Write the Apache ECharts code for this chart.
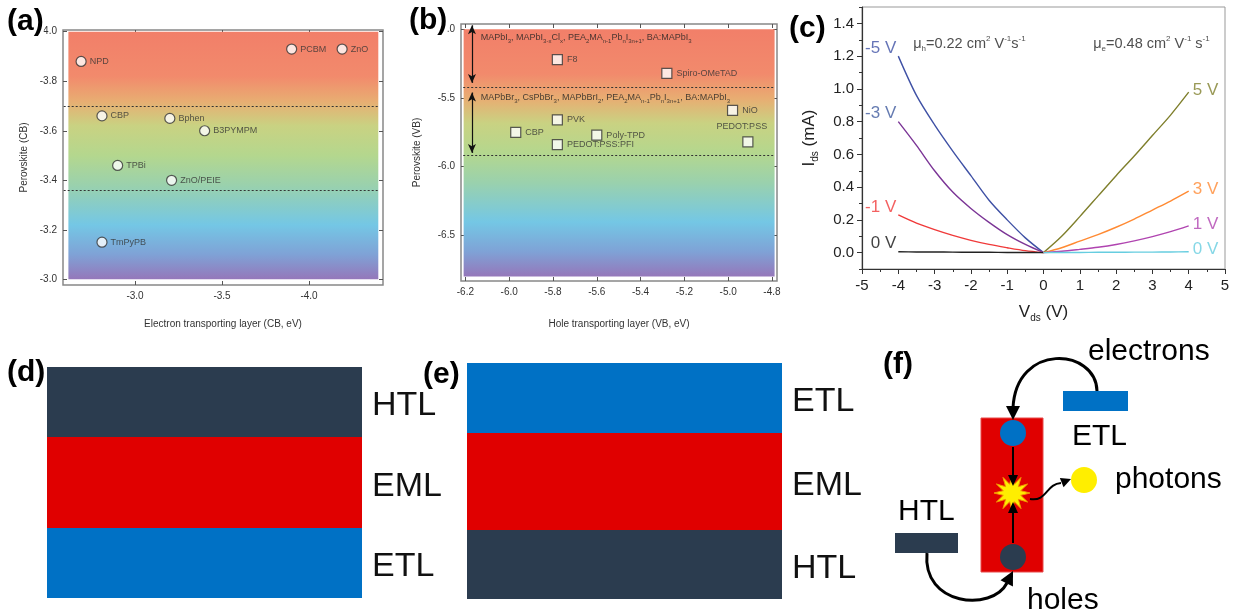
<!DOCTYPE html>
<html>
<head>
<meta charset="utf-8">
<script src="https://cdn.jsdelivr.net/npm/echarts@6/dist/echarts.min.js"></script>
<style>
  html, body { margin: 0; padding: 0; background: #fff; }
  #main { width: 1233px; height: 614px; }
</style>
</head>
<body>
<div id="main"></div>
<script>
// ---------- (a) electron transporting layers vs perovskite CB ----------
const etlNames = ['NPD', 'PCBM', 'ZnO', 'CBP', 'Bphen', 'B3PYMPM', 'TPBi', 'ZnO/PEIE', 'TmPyPB'];
const etlCB    = [-2.69, -3.90, -4.19, -2.81, -3.20, -3.40, -2.90, -3.21, -2.81];
const perovCB  = [-3.88, -3.93, -3.93, -3.66, -3.65, -3.60, -3.46, -3.40, -3.15];
const cbBandEdges = [-3.70, -3.36];
const cbTicksX = [-3.0, -3.5, -4.0];
const cbTicksY = [-4.0, -3.8, -3.6, -3.4, -3.2, -3.0];

// ---------- (b) hole transporting layers vs perovskite VB ----------
const htlNames = ['F8', 'Spiro-OMeTAD', 'NiO', 'PVK', 'CBP', 'Poly-TPD', 'PEDOT:PSS:PFI', 'PEDOT:PSS'];
const htlVB    = [-5.78, -5.28, -4.98, -5.78, -5.97, -5.60, -5.78, -4.91];
const perovVB  = [-5.22, -5.32, -5.59, -5.66, -5.75, -5.77, -5.84, -5.82];
const vbBandEdges = [-5.42, -5.92];
const vbGroupRanges = [[-4.97, -5.39], [-5.46, -5.90]];
const vbGroupText = [
  'MAPbI{s|3}, MAPbI{s|3-x}Cl{s|x}, PEA{s|2}MA{s|n-1}Pb{s|n}I{s|3n+1}, BA:MAPbI{s|3}',
  'MAPbBr{s|3}, CsPbBr{s|3}, MAPbBrI{s|2}, PEA{s|2}MA{s|n-1}Pb{s|n}I{s|3n+1}, BA:MAPbI{s|3}'
];
const vbGroupAnchor = [[-6.13, -5.06], [-6.13, -5.50]];
const vbTicksX = [-6.2, -6.0, -5.8, -5.6, -5.4, -5.2, -5.0, -4.8];
const vbTicksY = [-5.0, -5.5, -6.0, -6.5];

// ---------- (c) output curves ----------
const vdsNeg  = [-4, -3.5, -3, -2.5, -2, -1.5, -1, -0.5, 0];
const idsGm5  = [1.20, 0.96, 0.78, 0.62, 0.47, 0.32, 0.20, 0.09, 0];
const idsGm3  = [0.80, 0.655, 0.50, 0.37, 0.27, 0.185, 0.11, 0.05, 0];
const idsGm1  = [0.23, 0.18, 0.14, 0.105, 0.075, 0.05, 0.03, 0.012, 0];
const idsG0n  = [0.005, 0.004, 0.004, 0.003, 0.002, 0.002, 0.001, 0.001, 0];
const vdsPos  = [0, 0.5, 1, 1.5, 2, 2.5, 3, 3.5, 4];
const idsG5   = [0, 0.10, 0.22, 0.345, 0.47, 0.59, 0.715, 0.84, 0.98];
const idsG3   = [0, 0.03, 0.07, 0.11, 0.155, 0.205, 0.26, 0.315, 0.375];
const idsG1   = [0, 0.008, 0.02, 0.033, 0.05, 0.072, 0.098, 0.128, 0.163];
const idsG0p  = [0, 0.001, 0.001, 0.002, 0.002, 0.003, 0.003, 0.004, 0.005];
const gateLabelsNeg = ['-5 V', '-3 V', '-1 V', '0 V'];
const gateLabelsPos = ['5 V', '3 V', '1 V', '0 V'];
const idsTicks = [0, 0.2, 0.4, 0.6, 0.8, 1.0, 1.2, 1.4];
const idsMinorTicks = [-0.1, 0.1, 0.3, 0.5, 0.7, 0.9, 1.1, 1.3, 1.5];
const mobilityText = [
  '{t|μ}{sb|h}{t|=0.22 cm}{sp|2}{t| V}{sp|-1}{t|s}{sp|-1}',
  '{t|μ}{sb|e}{t|=0.48 cm}{sp|2}{t| V}{sp|-1}{t| s}{sp|-1}'
];
const mobilityAnchor = [[-3.59, 1.275], [1.37, 1.275]];

// ---------- (d), (e) device stacks, bottom layer first ----------
const stackD = ['ETL', 'EML', 'HTL'];
const thickD = [70, 91, 70];
const stackE = ['HTL', 'EML', 'ETL'];
const thickE = [69, 97, 70];

const FONT = 'Liberation Sans, Arial, sans-serif';
const layerColor = { HTL: '#2b3c4f', EML: '#e00000', ETL: '#0071c5' };
const negColors = ['#3f51a5', '#7b3596', '#f03a3a', '#222222'];
const negLabelColors = ['#3f51a5', '#3f5a9e', '#f03a3a', '#111111'];
const posColors = ['#7f7f2c', '#ff8a33', '#b044b0', '#66cde0'];

const chart = echarts.init(document.getElementById('main'), null, { renderer: 'canvas' });

function bandGradient() {
  return new echarts.graphic.LinearGradient(0, 0, 0, 1, [
    { offset: 0.00, color: '#f27f69' },
    { offset: 0.18, color: '#f28a6c' },
    { offset: 0.28, color: '#e8ad72' },
    { offset: 0.38, color: '#c9d282' },
    { offset: 0.50, color: '#b4d78e' },
    { offset: 0.62, color: '#9ad1ad' },
    { offset: 0.78, color: '#74c7e5' },
    { offset: 0.90, color: '#7fa2d6' },
    { offset: 1.00, color: '#9577ba' }
  ]);
}

const fmt1 = v => Number(v).toFixed(1);
const smallLabel = { fontSize: 10, color: '#333', fontFamily: FONT };

function energyAxis(gridIndex, opts, ticks, withLabels, position, name, nameGap) {
  return Object.assign({
    type: 'value', gridIndex, position,
    axisLine: { show: false, onZero: false },
    splitLine: { show: false },
    axisTick: { show: true, inside: true, length: 4, customValues: ticks, lineStyle: { color: '#555', width: 1 } },
    axisLabel: withLabels
      ? Object.assign({ customValues: ticks, formatter: fmt1, margin: 6 }, smallLabel)
      : { show: false },
    name: name || '', nameLocation: 'middle', nameGap: nameGap || 0,
    nameTextStyle: { fontSize: 10, color: '#333', fontFamily: FONT }
  }, opts);
}

// Layout of the energy-level panels
const aXRange = { min: -4.425, max: -2.586 };
const aYRange = { min: -4.007, max: -2.977 };
const aFill = { x: [-2.617, -4.398], y: [-4.0, -3.0] };
const bXRange = { min: -6.22, max: -4.777 };
const bYRange = { min: -6.833, max: -4.961 };
const bFill = { x: [-6.208, -4.788], y: [-5.0, -6.80] };

const series = [];

// (a) coloured band and dotted limits
series.push({
  type: 'scatter', xAxisIndex: 0, yAxisIndex: 0, z: 1, silent: true,
  symbolSize: 0, data: [[aFill.x[0], aFill.y[0]]],
  markArea: { silent: true, itemStyle: { color: bandGradient() },
    data: [[{ coord: [aFill.x[0], aFill.y[0]] }, { coord: [aFill.x[1], aFill.y[1]] }]] },
  markLine: { silent: true, symbol: 'none', label: { show: false },
    lineStyle: { type: [2, 2], color: '#333', width: 1 },
    data: cbBandEdges.map(v => [{ coord: [-2.59, v] }, { coord: [aFill.x[1], v] }]) }
});
series.push({
  type: 'scatter', xAxisIndex: 0, yAxisIndex: 0, z: 5,
  symbol: 'circle', symbolSize: 10,
  itemStyle: { color: '#fff', borderColor: '#333', borderWidth: 1.2 },
  label: { show: true, position: 'right', distance: 3, formatter: p => p.value[2],
    fontSize: 9, color: '#333', fontFamily: FONT },
  data: etlNames.map((n, i) => [etlCB[i], perovCB[i], n])
});

// (b) coloured band, dotted limits and composition ranges
series.push({
  type: 'scatter', xAxisIndex: 2, yAxisIndex: 2, z: 1, silent: true,
  symbolSize: 0, data: [[bFill.x[0], bFill.y[0]]],
  markArea: { silent: true, itemStyle: { color: bandGradient() },
    data: [[{ coord: [bFill.x[0], bFill.y[0]] }, { coord: [bFill.x[1], bFill.y[1]] }]] },
  markLine: { silent: true, symbol: 'none', label: { show: false },
    lineStyle: { type: [2, 2], color: '#333', width: 1 },
    data: vbBandEdges.map(v => [{ coord: [-6.21, v] }, { coord: [bFill.x[1], v] }]) }
});
series.push({
  type: 'scatter', xAxisIndex: 2, yAxisIndex: 2, z: 3, silent: true,
  symbolSize: 0, data: [[-6.17, -5.0]],
  markLine: { silent: true, symbol: ['arrow', 'arrow'], symbolSize: [6, 9], label: { show: false },
    lineStyle: { type: 'solid', color: '#111', width: 1.2 },
    data: vbGroupRanges.map(r => [{ coord: [-6.17, r[0]] }, { coord: [-6.17, r[1]] }]) }
});
series.push({
  type: 'scatter', xAxisIndex: 2, yAxisIndex: 2, z: 4, silent: true, symbolSize: 0,
  label: { show: true, position: 'right', distance: 0, formatter: p => p.value[2],
    rich: {
      s: { fontSize: 6, verticalAlign: 'bottom', lineHeight: 8, color: '#222', fontFamily: FONT }
    },
    fontSize: 9, lineHeight: 13, color: '#222', fontFamily: FONT },
  data: vbGroupText.map((t, i) => [vbGroupAnchor[i][0], vbGroupAnchor[i][1], t])
});
series.push({
  type: 'scatter', xAxisIndex: 2, yAxisIndex: 2, z: 5,
  symbol: 'rect', symbolSize: 10,
  itemStyle: { color: '#fff', borderColor: '#333', borderWidth: 1.2 },
  label: { show: true, position: 'right', distance: 4, formatter: p => p.value[2],
    fontSize: 9, color: '#333', fontFamily: FONT },
  data: htlNames.map((n, i) => {
    const item = { value: [htlVB[i], perovVB[i], n] };
    if (n === 'PEDOT:PSS') item.label = { position: 'top', distance: 5, offset: [-6, 0] };
    return item;
  })
});

// (c) output characteristics
function curve(xs, ys, color) {
  return {
    type: 'line', xAxisIndex: 4, yAxisIndex: 4, z: 4, smooth: 0.3,
    showSymbol: false, symbol: 'none',
    lineStyle: { color, width: 1.4 }, itemStyle: { color },
    data: xs.map((x, i) => [x, ys[i]])
  };
}
const negCurves = [idsGm5, idsGm3, idsGm1, idsG0n];
const posCurves = [idsG5, idsG3, idsG1, idsG0p];
negCurves.forEach((ys, i) => series.push(curve(vdsNeg, ys, negColors[i])));
posCurves.forEach((ys, i) => series.push(curve(vdsPos, ys, posColors[i])));

// gate-voltage tags at the free end of each curve
series.push({
  type: 'scatter', xAxisIndex: 4, yAxisIndex: 4, z: 6, silent: true, symbolSize: 0,
  data: negCurves.map((ys, i) => ({
    value: [vdsNeg[0], ys[0], gateLabelsNeg[i]],
    label: { color: negLabelColors[i] }
  })),
  label: { show: true, position: 'left', distance: 2, offset: [0, -8],
    formatter: p => p.value[2], fontSize: 17, fontFamily: FONT }
});
series.push({
  type: 'scatter', xAxisIndex: 4, yAxisIndex: 4, z: 6, silent: true, symbolSize: 0,
  data: posCurves.map((ys, i) => ({
    value: [vdsPos[vdsPos.length - 1], ys[ys.length - 1], gateLabelsPos[i]],
    label: { color: posColors[i] }
  })),
  label: { show: true, position: 'right', distance: 4, offset: [0, -2],
    formatter: p => p.value[2], fontSize: 17, fontFamily: FONT }
});
series.push({
  type: 'scatter', xAxisIndex: 4, yAxisIndex: 4, z: 4, silent: true, symbolSize: 0,
  label: { show: true, position: 'right', distance: 0, formatter: p => p.value[2],
    rich: {
      t: { fontSize: 14.5, lineHeight: 18, color: '#222', fontFamily: FONT },
      sb: { fontSize: 8, lineHeight: 8, verticalAlign: 'bottom', color: '#222', fontFamily: FONT },
      sp: { fontSize: 8, lineHeight: 8, verticalAlign: 'top', color: '#222', fontFamily: FONT }
    } },
  data: mobilityText.map((t, i) => [mobilityAnchor[i][0], mobilityAnchor[i][1], t])
});

// (d), (e) layer stacks
function stackSeries(names, thick, xIdx, yIdx, stackId) {
  names.forEach((n, i) => series.push({
    type: 'bar', xAxisIndex: xIdx, yAxisIndex: yIdx, stack: stackId,
    barWidth: '100%', silent: true, data: [thick[i]],
    itemStyle: { color: layerColor[n] },
    label: { show: true, position: 'right', distance: 10, offset: [0, 4], formatter: n,
      fontSize: 34, color: '#111', fontFamily: FONT }
  }));
}
stackSeries(stackD, thickD, 5, 6, 'd');
stackSeries(stackE, thickE, 6, 7, 'e');

// ---------- (f) recombination sketch ----------
function head(tx, ty, ux, uy, len, half) {
  const bx = tx - ux * len, by = ty - uy * len;
  return { type: 'polygon', z: 20,
    shape: { points: [[tx, ty], [bx - uy * half, by + ux * half], [bx + uy * half, by - ux * half]] },
    style: { fill: '#000' } };
}
function starPoints(cx, cy, rOut, rIn, n) {
  const pts = [];
  for (let k = 0; k < n * 2; k++) {
    const r = k % 2 === 0 ? rOut : rIn;
    const a = Math.PI * k / n - Math.PI / 2;
    pts.push([cx + r * Math.cos(a), cy + r * Math.sin(a)]);
  }
  return pts;
}
function label(text, x, y, size, bold) {
  return { type: 'text', z: 30, x, y,
    style: { text, fontSize: size, fontWeight: bold ? 'bold' : 'normal', fontFamily: FONT,
      fill: '#000', verticalAlign: 'middle', align: 'left' } };
}
const arrowStroke = { stroke: '#000', lineWidth: 3, fill: null };
const sketch = [
  { type: 'rect', z: 10, shape: { x: 981, y: 418, width: 62, height: 154 },
    style: { fill: '#e00000', stroke: '#e84a4a', lineWidth: 1 } },
  { type: 'rect', z: 10, shape: { x: 1063, y: 391, width: 65, height: 20 }, style: { fill: '#0071c5' } },
  { type: 'rect', z: 10, shape: { x: 895, y: 533, width: 63, height: 20 }, style: { fill: '#2b3c4f' } },
  { type: 'circle', z: 12, shape: { cx: 1013, cy: 433, r: 13 }, style: { fill: '#0071c5' } },
  { type: 'circle', z: 12, shape: { cx: 1013, cy: 557, r: 13 }, style: { fill: '#2b3c4f' } },
  { type: 'circle', z: 12, shape: { cx: 1084, cy: 480, r: 13 }, style: { fill: '#ffee00' } },
  { type: 'polygon', z: 13, shape: { points: starPoints(1012, 493, 18, 9, 12) },
    style: { fill: '#ffee00', stroke: '#f29a00', lineWidth: 1 } },
  { type: 'line', z: 20, shape: { x1: 1013, y1: 447, x2: 1013, y2: 476 }, style: { stroke: '#000', lineWidth: 2 } },
  head(1013, 486, 0, 1, 11, 5),
  { type: 'line', z: 20, shape: { x1: 1013, y1: 543, x2: 1013, y2: 512 }, style: { stroke: '#000', lineWidth: 2 } },
  head(1013, 502, 0, -1, 11, 5),
  { type: 'bezierCurve', z: 20,
    shape: { x1: 1097, y1: 391, cpx1: 1096, cpy1: 348, cpx2: 1016, cpy2: 342, x2: 1013, y2: 408 },
    style: arrowStroke },
  head(1013, 420, 0, 1, 14, 7),
  { type: 'bezierCurve', z: 20,
    shape: { x1: 927, y1: 553, cpx1: 922, cpy1: 606, cpx2: 992, cpy2: 612, x2: 1007, y2: 583 },
    style: arrowStroke },
  head(1013, 571, 0.45, -0.89, 14, 7),
  { type: 'bezierCurve', z: 20,
    shape: { x1: 1030, y1: 499, cpx1: 1047, cpy1: 502, cpx2: 1046, cpy2: 484, x2: 1061, y2: 483 },
    style: { stroke: '#000', lineWidth: 2, fill: null } },
  head(1071, 479, 0.93, -0.37, 10, 5),
  label('electrons', 1088, 352, 30),
  label('ETL', 1072, 437, 30),
  label('photons', 1115, 480, 30),
  label('HTL', 898, 512, 30),
  label('holes', 1027, 601, 30)
];

// Panel letters (drawn on a white ground so they sit over nearby tick text)
function letter(text, x, y) {
  const el = label(text, x, y, 30, true);
  el.style.backgroundColor = '#fff';
  return el;
}
const letters = [
  letter('(a)', 7, 22),
  letter('(b)', 409, 21),
  letter('(c)', 789, 29),
  letter('(d)', 7, 373),
  letter('(e)', 423, 375),
  letter('(f)', 883, 365)
];

const option = {
  backgroundColor: '#fff',
  animation: false,
  grid: [
    { left: 63, top: 30, width: 320, height: 255, show: true, borderColor: '#888', borderWidth: 1.5, backgroundColor: 'transparent' },
    { left: 461, top: 24, width: 316, height: 257, show: true, borderColor: '#888', borderWidth: 1.5, backgroundColor: 'transparent' },
    { left: 862, top: 7, width: 363, height: 262, show: true, borderColor: '#999', borderWidth: 1, backgroundColor: 'transparent' },
    { left: 47, top: 367, width: 315, height: 231 },
    { left: 467, top: 363, width: 315, height: 236 }
  ],
  xAxis: [
    energyAxis(0, Object.assign({ inverse: true }, aXRange), cbTicksX, true, 'bottom',
      'Electron transporting layer (CB, eV)', 34),
    energyAxis(0, Object.assign({ inverse: true }, aXRange), cbTicksX, false, 'top'),
    energyAxis(1, bXRange, vbTicksX, true, 'bottom', 'Hole transporting layer (VB, eV)', 38),
    energyAxis(1, bXRange, vbTicksX, false, 'top'),
    {
      type: 'value', gridIndex: 2, min: -5, max: 5, interval: 1, position: 'bottom',
      axisLine: { show: true, onZero: false, lineStyle: { color: '#333', width: 1.2 } },
      axisTick: { show: true, inside: false, length: 5, lineStyle: { color: '#333' } },
      minorTick: { show: true, splitNumber: 2, length: 3, lineStyle: { color: '#333' } },
      splitLine: { show: false },
      axisLabel: { fontSize: 15, color: '#222', fontFamily: FONT, margin: 9 },
      name: '{i|V}{s|ds}{i| (V)}', nameLocation: 'middle', nameGap: 32,
      nameTextStyle: { fontSize: 17, color: '#222', fontFamily: FONT,
        rich: { i: { fontSize: 17, lineHeight: 22, color: '#222', fontFamily: FONT },
                s: { fontSize: 10, lineHeight: 10, verticalAlign: 'bottom', color: '#222', fontFamily: FONT } } }
    },
    { type: 'category', gridIndex: 3, data: ['stack'], show: false },
    { type: 'category', gridIndex: 4, data: ['stack'], show: false }
  ],
  yAxis: [
    energyAxis(0, Object.assign({ inverse: true }, aYRange), cbTicksY, true, 'left', 'Perovskite (CB)', 34),
    energyAxis(0, Object.assign({ inverse: true }, aYRange), cbTicksY, false, 'right'),
    energyAxis(1, bYRange, vbTicksY, true, 'left', 'Perovskite (VB)', 39),
    energyAxis(1, bYRange, vbTicksY, false, 'right'),
    {
      type: 'value', gridIndex: 2, min: -0.1, max: 1.5, position: 'left',
      axisLine: { show: true, onZero: false, lineStyle: { color: '#333', width: 1.2 } },
      axisTick: { show: true, inside: false, length: 5, customValues: idsTicks, lineStyle: { color: '#333' } },
      splitLine: { show: false },
      axisLabel: { customValues: idsTicks, formatter: fmt1, fontSize: 15, color: '#222', fontFamily: FONT, margin: 8 },
      name: '{i|I}{s|ds}{i| (mA)}', nameLocation: 'middle', nameGap: 42,
      nameTextStyle: { fontSize: 17, color: '#222', fontFamily: FONT,
        rich: { i: { fontSize: 17, lineHeight: 22, color: '#222', fontFamily: FONT },
                s: { fontSize: 10, lineHeight: 10, verticalAlign: 'bottom', color: '#222', fontFamily: FONT } } }
    },
    {
      type: 'value', gridIndex: 2, min: -0.1, max: 1.5, position: 'left',
      axisLine: { show: false, onZero: false },
      axisTick: { show: true, inside: false, length: 3, customValues: idsMinorTicks, lineStyle: { color: '#333' } },
      axisLabel: { show: false }, splitLine: { show: false }
    },
    { type: 'value', gridIndex: 3, min: 0, max: 231, show: false },
    { type: 'value', gridIndex: 4, min: 0, max: 236, show: false }
  ],
  series,
  graphic: { elements: sketch.concat(letters) }
};

chart.setOption(option);
</script>
</body>
</html>
